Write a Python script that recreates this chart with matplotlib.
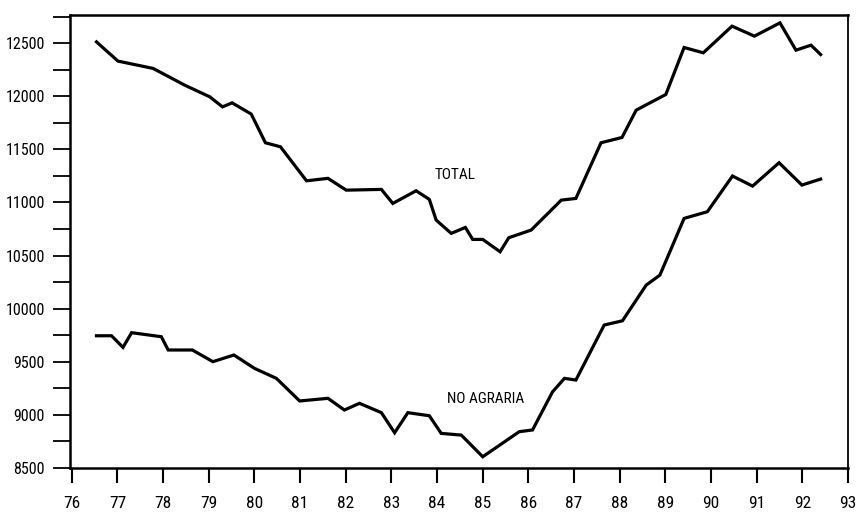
import matplotlib
matplotlib.use("Agg")
import matplotlib.pyplot as plt
from matplotlib.ticker import MultipleLocator

plt.rcParams["font.family"] = ["Liberation Sans Narrow", "Roboto Condensed",
                               "Archivo Narrow", "Liberation Sans"]

# TOTAL series (decimal year, value)
total_x = [76.54, 77.01, 77.78, 78.47, 79.02, 79.30, 79.51, 79.93, 80.24, 80.57,
           81.14, 81.61, 82.01, 82.78, 83.03, 83.54, 83.83, 83.98, 84.31, 84.62,
           84.78, 85.00, 85.38, 85.57, 86.06, 86.72, 87.04, 87.59, 88.05, 88.36,
           89.01, 89.41, 89.83, 90.46, 90.95, 91.51, 91.86, 92.19, 92.40]
total_y = [12512, 12331, 12262, 12105, 11995, 11900, 11938, 11832, 11562, 11524,
           11204, 11227, 11116, 11123, 10991, 11110, 11029, 10834, 10709, 10765,
           10652, 10652, 10536, 10668, 10740, 11022, 11038, 11562, 11612, 11869,
           12017, 12459, 12409, 12660, 12566, 12691, 12434, 12481, 12393]

# NO AGRARIA series
noagr_x = [76.54, 76.87, 77.12, 77.31, 77.96, 78.11, 78.64, 79.09, 79.55, 80.00,
           80.48, 80.99, 81.61, 81.97, 82.30, 82.78, 83.07, 83.36, 83.83, 84.09,
           84.53, 85.00, 85.80, 86.09, 86.53, 86.79, 87.04, 87.66, 88.06, 88.58,
           88.88, 89.41, 89.92, 90.47, 90.91, 91.49, 91.99, 92.40]
noagr_y = [9745, 9745, 9636, 9774, 9736, 9611, 9611, 9501, 9564, 9438,
           9344, 9131, 9156, 9046, 9109, 9021, 8832, 9021, 8992, 8826,
           8810, 8606, 8842, 8858, 9218, 9344, 9328, 9846, 9886, 10222,
           10316, 10850, 10913, 11249, 11154, 11374, 11164, 11220]

year_ticks = list(range(76, 94))
year_labels = [str(y) for y in year_ticks]

fig = plt.figure(figsize=(8.59, 5.12), dpi=100)
ax = fig.add_axes([70 / 859, 1 - 468 / 512, (848 - 70) / 859, (468 - 15) / 512])

ax.plot(total_x, total_y, color="black", linewidth=2.3, solid_joinstyle="miter")
ax.plot(noagr_x, noagr_y, color="black", linewidth=2.3, solid_joinstyle="miter")

ax.text(84.4, 11262, "TOTAL", ha="center", va="center", fontsize=11)
ax.text(85.07, 9152, "NO AGRARIA", ha="center", va="center", fontsize=11)

ax.set_xlim(75.96, 93.0)
ax.set_ylim(8500, 12765)
ax.set_xticks(year_ticks)
ax.set_xticklabels(year_labels)
ax.yaxis.set_major_locator(MultipleLocator(500))
ax.yaxis.set_minor_locator(MultipleLocator(250))
ax.set_yticks([8500 + 500 * i for i in range(9)])

ax.tick_params(axis="x", direction="out", length=11, width=1.5, labelsize=12.5, pad=9)
ax.tick_params(axis="y", which="both", direction="out", length=12, width=1.3,
               labelsize=11.5, pad=6)

for side in ("left", "bottom", "top"):
    ax.spines[side].set_linewidth(1.8)
ax.spines["right"].set_linewidth(1.3)

fig.savefig("out.png", dpi=100)
